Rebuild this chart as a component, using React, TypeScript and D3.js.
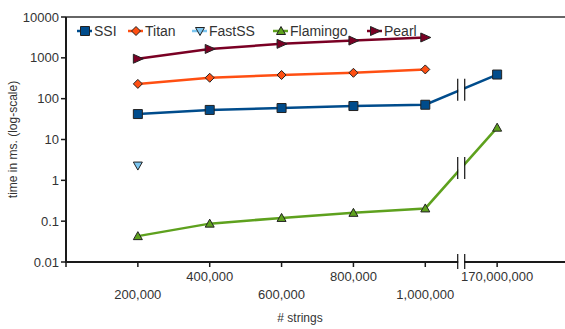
import { useEffect, useRef } from 'react'
import * as d3 from 'd3'

// ── data ─────────────────────────────────────────────────────────────────────
const CATS    = ['', '200,000', '400,000', '600,000', '800,000', '1,000,000', '170,000,000', '']
const Y_TICKS = [0.01, 0.1, 1, 10, 100, 1000, 10000]

const SSI      = [42, 53, 59, 66, 71, 390]
const TITAN    = [230, 325, 380, 430, 520]
const FASTSS   = [2.3]
const FLAMINGO = [0.043, 0.087, 0.12, 0.16, 0.205, 19.5]
const PEARL    = [950, 1650, 2200, 2650, 3150]

type Shape = 'square' | 'diamond' | 'down' | 'up' | 'right'
const SERIES: { name: string; values: number[]; color: string; shape: Shape }[] = [
  { name: 'SSI',      values: SSI,      color: '#004c8c', shape: 'square'  },
  { name: 'Titan',    values: TITAN,    color: '#ff4f12', shape: 'diamond' },
  { name: 'FastSS',   values: FASTSS,   color: '#7cc6f0', shape: 'down'    },
  { name: 'Flamingo', values: FLAMINGO, color: '#5ea11e', shape: 'up'      },
  { name: 'Pearl',    values: PEARL,    color: '#7a0024', shape: 'right'   },
]

// ── constants ────────────────────────────────────────────────────────────────
const W = 565, H = 329
const M = { top: 17, left: 66, bottom: 262 }
const FONT = 'Liberation Sans, Arial, sans-serif'
const AXC = '#1a1a1a'

function markerPath(shape: Shape): string {
  switch (shape) {
    case 'square':  return 'M-4.5,-4.5H4.5V4.5H-4.5Z'
    case 'diamond': return 'M0,-4.5L4.5,0L0,4.5L-4.5,0Z'
    case 'down':    return 'M-4.5,-3.5H4.5L0,4.5Z'
    case 'up':      return 'M-4.5,3.5H4.5L0,-4.5Z'
    case 'right':   return 'M-4.5,-4.5L5.5,0L-4.5,4.5Z'
  }
}

export default function App() {
  const ref = useRef<SVGSVGElement>(null)

  useEffect(() => {
    if (!ref.current) return
    const svg = d3.select(ref.current)
    svg.selectAll('*').remove()

    const x = d3.scalePoint<number>().domain(d3.range(CATS.length)).range([M.left, 569])
    const y = d3.scaleLog().domain([0.01, 10000]).range([M.bottom, M.top])
    const xBreak = (x(5)! + x(6)!) / 2

    // top border
    svg.append('line')
      .attr('x1', M.left).attr('x2', W).attr('y1', M.top).attr('y2', M.top)
      .attr('stroke', '#333').attr('stroke-width', 1.5)

    // ── series lines ─────────────────────────────────────────────────────────
    SERIES.forEach(s => {
      const pts = s.values.map((v, i) => [x(i + 1)!, y(v)] as [number, number])
      if (pts.length > 1) {
        svg.append('path').datum(pts)
          .attr('fill', 'none')
          .attr('stroke', s.color)
          .attr('stroke-width', 2.5)
          .attr('d', d3.line())
      }
    })

    // break marks on lines crossing the gap
    SERIES.filter(s => s.values.length === 6).forEach(s => {
      const y5 = y(s.values[4]), y6 = y(s.values[5])
      const yb = (y5 + y6) / 2
      svg.append('rect')
        .attr('x', xBreak - 3).attr('y', yb - 12).attr('width', 6).attr('height', 24)
        .attr('fill', '#fff')
      ;[-3.5, 3.5].forEach(dx => svg.append('line')
        .attr('x1', xBreak + dx).attr('x2', xBreak + dx)
        .attr('y1', yb - 11).attr('y2', yb + 11)
        .attr('stroke', '#111').attr('stroke-width', 1.2))
    })

    // markers
    SERIES.forEach(s => {
      svg.append('g').selectAll('path')
        .data(s.values)
        .join('path')
          .attr('d', markerPath(s.shape))
          .attr('transform', (v, i) => `translate(${x(i + 1)},${y(v)})`)
          .attr('fill', s.color)
          .attr('stroke', '#222')
          .attr('stroke-width', 1)
    })

    // ── axes ─────────────────────────────────────────────────────────────────
    const yAx = svg.append('g')
    yAx.append('line')
      .attr('x1', M.left).attr('x2', M.left).attr('y1', M.top).attr('y2', M.bottom)
      .attr('stroke', AXC).attr('stroke-width', 2)
    yAx.selectAll('line.t').data(Y_TICKS).join('line')
      .attr('class', 't')
      .attr('x1', M.left - 5).attr('x2', M.left)
      .attr('y1', d => y(d)).attr('y2', d => y(d))
      .attr('stroke', AXC).attr('stroke-width', 1.5)
    yAx.selectAll('text').data(Y_TICKS).join('text')
      .attr('x', M.left - 7).attr('y', d => y(d))
      .attr('dy', '0.35em').attr('text-anchor', 'end')
      .attr('font-family', FONT).attr('font-size', 13).attr('fill', '#333')
      .text(d => String(d))

    const xAx = svg.append('g')
    xAx.append('line')
      .attr('x1', M.left - 1).attr('x2', W).attr('y1', M.bottom).attr('y2', M.bottom)
      .attr('stroke', AXC).attr('stroke-width', 2)
    xAx.selectAll('line.t').data(d3.range(CATS.length - 1)).join('line')
      .attr('class', 't')
      .attr('x1', i => x(i)!).attr('x2', i => x(i)!)
      .attr('y1', M.bottom).attr('y2', M.bottom + 5)
      .attr('stroke', AXC).attr('stroke-width', 1.5)
    xAx.selectAll('text').data(d3.range(1, CATS.length - 1)).join('text')
      .attr('x', i => x(i)!)
      .attr('y', i => i % 2 === 0 ? 281 : 299)
      .attr('text-anchor', 'middle')
      .attr('font-family', FONT).attr('font-size', 13).attr('fill', '#333')
      .text(i => CATS[i])

    // axis break
    xAx.append('rect')
      .attr('x', xBreak - 3).attr('y', M.bottom - 3).attr('width', 6).attr('height', 6)
      .attr('fill', '#fff')
    ;[-3.5, 3.5].forEach(dx => xAx.append('line')
      .attr('x1', xBreak + dx).attr('x2', xBreak + dx)
      .attr('y1', M.bottom - 8).attr('y2', M.bottom + 7)
      .attr('stroke', '#111').attr('stroke-width', 1.2))

    // titles
    svg.append('text')
      .attr('transform', `translate(17,${(M.top + M.bottom) / 2}) rotate(-90)`)
      .attr('text-anchor', 'middle')
      .attr('font-family', FONT).attr('font-size', 12).attr('fill', '#333')
      .text('time in ms. (log-scale)')
    svg.append('text')
      .attr('x', 300).attr('y', 322)
      .attr('text-anchor', 'middle')
      .attr('font-family', FONT).attr('font-size', 12).attr('fill', '#333')
      .text('# strings')

    // ── legend ───────────────────────────────────────────────────────────────
    const LX = [77, 128, 192, 273, 367]
    SERIES.forEach((s, i) => {
      const g = svg.append('g').attr('transform', `translate(${LX[i]},31)`)
      g.append('line').attr('x1', 0).attr('x2', 15)
        .attr('stroke', s.color).attr('stroke-width', 2.5)
      g.append('path').attr('d', markerPath(s.shape))
        .attr('transform', 'translate(8,0)')
        .attr('fill', s.color).attr('stroke', '#222').attr('stroke-width', 1)
      g.append('text').attr('x', 17).attr('dy', '0.36em')
        .attr('font-family', FONT).attr('font-size', 14).attr('fill', '#333')
        .text(s.name)
    })
  }, [])

  return (
    <svg ref={ref} width={W} height={H}
      style={{ position: 'absolute', left: 0, top: 0, display: 'block', background: '#fff' }} />
  )
}
